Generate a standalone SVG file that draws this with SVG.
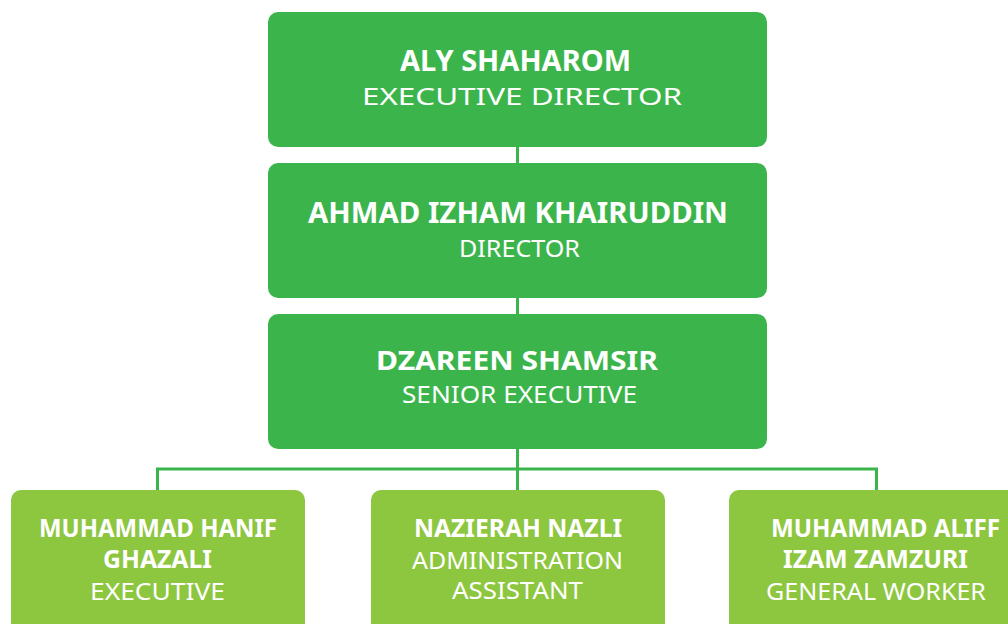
<svg xmlns="http://www.w3.org/2000/svg" width="1008" height="624" viewBox="0 0 1008 624">
<style>
.top{fill:#3bb54b}
.bot{fill:#8dc63f}
.c{stroke:#3bb54b;stroke-width:3;fill:none}
text{font-family:"Noto Sans","Open Sans",sans-serif;fill:#fff;text-anchor:middle}
.n{font-weight:bold;font-size:29px}
.r{font-size:29px}
.bn{font-weight:bold;font-size:25px}
.br{font-size:24px}
</style>
<rect width="1008" height="624" fill="#fff"/>
<g id="connectors">
<line class="c" x1="517.5" y1="147" x2="517.5" y2="163"/>
<line class="c" x1="517.5" y1="298" x2="517.5" y2="314"/>
<line class="c" x1="517.5" y1="449" x2="517.5" y2="490"/>
<polyline class="c" points="157.5,490 157.5,469 876.5,469 876.5,490"/>
</g>
<g id="aly">
<rect class="top" x="268" y="12" width="499" height="135" rx="10"/>
<text class="n" x="515.5" y="71" style="font-size:28px" textLength="231" lengthAdjust="spacingAndGlyphs">ALY SHAHAROM</text>
<text class="r" x="522" y="105" style="font-size:24px" textLength="320" lengthAdjust="spacingAndGlyphs">EXECUTIVE DIRECTOR</text>
</g>
<g id="ahmad">
<rect class="top" x="268" y="163" width="499" height="135" rx="10"/>
<text class="n" x="518" y="223" textLength="420" lengthAdjust="spacingAndGlyphs">AHMAD IZHAM KHAIRUDDIN</text>
<text class="r" x="519.5" y="257" style="font-size:23.5px" textLength="121" lengthAdjust="spacingAndGlyphs">DIRECTOR</text>
</g>
<g id="dzareen">
<rect class="top" x="268" y="314" width="499" height="135" rx="10"/>
<text class="n" x="517" y="370" style="font-size:27px" textLength="282" lengthAdjust="spacingAndGlyphs">DZAREEN SHAMSIR</text>
<text class="r" x="519.5" y="403" style="font-size:24px" textLength="235" lengthAdjust="spacingAndGlyphs">SENIOR EXECUTIVE</text>
</g>
<g id="hanif">
<rect class="bot" x="11" y="490" width="294" height="150" rx="10"/>
<text class="bn" x="158" y="537" textLength="238" lengthAdjust="spacingAndGlyphs">MUHAMMAD HANIF</text>
<text class="bn" x="157.5" y="568" textLength="109" lengthAdjust="spacingAndGlyphs">GHAZALI</text>
<text class="br" x="157.5" y="600" textLength="135" lengthAdjust="spacingAndGlyphs">EXECUTIVE</text>
</g>
<g id="nazierah">
<rect class="bot" x="371" y="490" width="294" height="150" rx="10"/>
<text class="bn" x="518" y="537" textLength="208" lengthAdjust="spacingAndGlyphs">NAZIERAH NAZLI</text>
<text class="br" x="517.5" y="569" textLength="211" lengthAdjust="spacingAndGlyphs">ADMINISTRATION</text>
<text class="br" x="517.5" y="599" textLength="131" lengthAdjust="spacingAndGlyphs">ASSISTANT</text>
</g>
<g id="aliff">
<rect class="bot" x="729" y="490" width="294" height="150" rx="10"/>
<text class="bn" x="885.5" y="537" textLength="229" lengthAdjust="spacingAndGlyphs">MUHAMMAD ALIFF</text>
<text class="bn" x="875.5" y="568" textLength="185" lengthAdjust="spacingAndGlyphs">IZAM ZAMZURI</text>
<text class="br" x="876" y="600" textLength="220" lengthAdjust="spacingAndGlyphs">GENERAL WORKER</text>
</g>
</svg>
